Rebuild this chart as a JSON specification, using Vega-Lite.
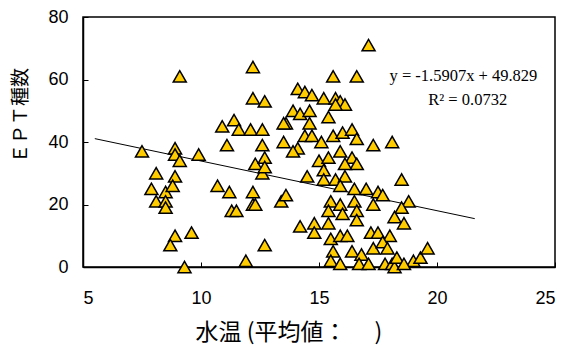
{
  "$schema": "https://vega.github.io/schema/vega-lite/v6.json",
  "width": 472,
  "height": 250,
  "autosize": {"type": "none"},
  "padding": {"left": 83, "top": 17, "right": 13, "bottom": 82},
  "background": "white",
  "config": {
    "view": {"stroke": "black", "strokeWidth": 1.5},
    "axis": {
      "grid": false,
      "domainColor": "black",
      "domainWidth": 1.5,
      "tickColor": "black",
      "tickWidth": 1,
      "tickSize": -5,
      "labelFont": "Liberation Sans",
      "labelFontSize": 18,
      "labelColor": "black",
      "titleFont": "Noto Sans CJK JP",
      "titleFontWeight": "normal",
      "titleColor": "black"
    }
  },
  "layer": [
    {
      "data": {"values": [
        {"temp": 5.5, "ept": 41.08},
        {"temp": 21.6, "ept": 15.47}
      ]},
      "mark": {"type": "line", "color": "black", "strokeWidth": 1},
      "encoding": {
        "x": {"field": "temp", "type": "quantitative"},
        "y": {"field": "ept", "type": "quantitative"}
      }
    },
    {
      "data": {"values": [
        {"temp": 7.5, "ept": 37}, {"temp": 9.1, "ept": 61}, {"temp": 8.9, "ept": 38}, {"temp": 8.9, "ept": 36},
        {"temp": 9.1, "ept": 34}, {"temp": 9.9, "ept": 36}, {"temp": 8.1, "ept": 30}, {"temp": 8.9, "ept": 29},
        {"temp": 7.9, "ept": 25}, {"temp": 8.1, "ept": 21}, {"temp": 8.5, "ept": 24}, {"temp": 8.5, "ept": 21},
        {"temp": 8.5, "ept": 19}, {"temp": 8.8, "ept": 26}, {"temp": 8.9, "ept": 10}, {"temp": 8.7, "ept": 7},
        {"temp": 9.6, "ept": 11}, {"temp": 9.3, "ept": 0}, {"temp": 10.7, "ept": 26}, {"temp": 11.2, "ept": 24},
        {"temp": 11.3, "ept": 18}, {"temp": 11.5, "ept": 18}, {"temp": 11.9, "ept": 2}, {"temp": 12.2, "ept": 24},
        {"temp": 12.2, "ept": 20}, {"temp": 12.3, "ept": 20}, {"temp": 12.7, "ept": 7}, {"temp": 12.6, "ept": 30},
        {"temp": 13.4, "ept": 21}, {"temp": 13.6, "ept": 23}, {"temp": 12.2, "ept": 64}, {"temp": 12.2, "ept": 54},
        {"temp": 12.7, "ept": 53}, {"temp": 10.9, "ept": 45}, {"temp": 11.4, "ept": 47}, {"temp": 11.6, "ept": 44},
        {"temp": 12.1, "ept": 44}, {"temp": 12.6, "ept": 44}, {"temp": 11.1, "ept": 39}, {"temp": 12.6, "ept": 39},
        {"temp": 12.3, "ept": 33}, {"temp": 12.7, "ept": 35}, {"temp": 12.7, "ept": 32}, {"temp": 13.5, "ept": 40},
        {"temp": 13.6, "ept": 46},
        {"temp": 17.1, "ept": 71}, {"temp": 15.6, "ept": 61}, {"temp": 16.6, "ept": 61}, {"temp": 14.1, "ept": 57},
        {"temp": 14.4, "ept": 56}, {"temp": 14.7, "ept": 55}, {"temp": 15.2, "ept": 54}, {"temp": 15.7, "ept": 54},
        {"temp": 15.9, "ept": 53}, {"temp": 16.1, "ept": 52}, {"temp": 15.7, "ept": 52}, {"temp": 13.5, "ept": 46},
        {"temp": 13.9, "ept": 50}, {"temp": 14.2, "ept": 49}, {"temp": 14.6, "ept": 50}, {"temp": 15.4, "ept": 48},
        {"temp": 14.6, "ept": 46}, {"temp": 14.1, "ept": 38}, {"temp": 13.9, "ept": 37}, {"temp": 14.4, "ept": 42},
        {"temp": 14.7, "ept": 42}, {"temp": 15.1, "ept": 40}, {"temp": 15.6, "ept": 42}, {"temp": 16.0, "ept": 43},
        {"temp": 16.4, "ept": 44}, {"temp": 16.6, "ept": 41}, {"temp": 17.3, "ept": 39}, {"temp": 18.1, "ept": 40},
        {"temp": 15.0, "ept": 34}, {"temp": 15.4, "ept": 35}, {"temp": 15.9, "ept": 37}, {"temp": 16.4, "ept": 35},
        {"temp": 16.6, "ept": 33}, {"temp": 16.1, "ept": 33}, {"temp": 15.2, "ept": 31}, {"temp": 14.5, "ept": 29},
        {"temp": 15.2, "ept": 28}, {"temp": 15.7, "ept": 28}, {"temp": 16.1, "ept": 29}, {"temp": 15.9, "ept": 26},
        {"temp": 18.5, "ept": 28}, {"temp": 16.5, "ept": 25}, {"temp": 17.0, "ept": 25}, {"temp": 17.5, "ept": 24},
        {"temp": 17.7, "ept": 23}, {"temp": 15.5, "ept": 21}, {"temp": 15.9, "ept": 20}, {"temp": 16.5, "ept": 21},
        {"temp": 18.8, "ept": 21}, {"temp": 15.4, "ept": 18}, {"temp": 16.0, "ept": 17}, {"temp": 16.6, "ept": 18},
        {"temp": 16.6, "ept": 15}, {"temp": 17.3, "ept": 20}, {"temp": 18.5, "ept": 19}, {"temp": 18.2, "ept": 16},
        {"temp": 18.6, "ept": 14}, {"temp": 14.2, "ept": 13}, {"temp": 14.8, "ept": 14}, {"temp": 14.8, "ept": 11},
        {"temp": 15.4, "ept": 14}, {"temp": 15.5, "ept": 9}, {"temp": 15.9, "ept": 10}, {"temp": 16.2, "ept": 10},
        {"temp": 17.2, "ept": 11}, {"temp": 17.5, "ept": 11}, {"temp": 18.0, "ept": 10}, {"temp": 15.6, "ept": 5},
        {"temp": 15.5, "ept": 2}, {"temp": 15.9, "ept": 1}, {"temp": 16.4, "ept": 5}, {"temp": 16.8, "ept": 4},
        {"temp": 17.3, "ept": 6}, {"temp": 17.7, "ept": 8}, {"temp": 17.9, "ept": 6}, {"temp": 16.7, "ept": 1},
        {"temp": 17.1, "ept": 1}, {"temp": 17.8, "ept": 1}, {"temp": 18.1, "ept": 1}, {"temp": 18.2, "ept": 0},
        {"temp": 18.3, "ept": 3}, {"temp": 19.0, "ept": 2}, {"temp": 19.3, "ept": 3}, {"temp": 19.6, "ept": 6},
        {"temp": 18.6, "ept": 1}
      ]},
      "mark": {
        "type": "point",
        "shape": "triangle-up",
        "filled": true,
        "fill": "#FFCC00",
        "stroke": "black",
        "strokeWidth": 1.5,
        "size": 170,
        "opacity": 1
      },
      "encoding": {
        "x": {
          "field": "temp",
          "type": "quantitative",
          "scale": {"domain": [5, 25], "nice": false, "zero": false},
          "axis": {
            "values": [5, 10, 15, 20, 25],
            "labelPadding": 27,
            "title": "水温 (平均値：　 )",
            "titleFontSize": 23,
            "titleAnchor": "start",
            "titleAlign": "left",
            "titleBaseline": "middle",
            "titleX": 112,
            "titleY": 65
          }
        },
        "y": {
          "field": "ept",
          "type": "quantitative",
          "scale": {"domain": [0, 80], "nice": false, "zero": true},
          "axis": {
            "values": [0, 20, 40, 60, 80],
            "labelPadding": 20,
            "title": "ＥＰＴ種数",
            "titleFontSize": 19,
            "titleAngle": 270,
            "titleAlign": "center",
            "titleBaseline": "middle",
            "titleX": -63,
            "titleY": 98
          }
        }
      }
    },
    {
      "data": {"values": [
        {"temp": 21.12, "ept": 61.1, "label": "y = -1.5907x + 49.829"},
        {"temp": 21.3, "ept": 53.4, "label": "R² = 0.0732"}
      ]},
      "mark": {
        "type": "text",
        "font": "Liberation Serif",
        "fontSize": 16.5,
        "color": "black",
        "align": "center",
        "baseline": "middle"
      },
      "encoding": {
        "x": {"field": "temp", "type": "quantitative"},
        "y": {"field": "ept", "type": "quantitative"},
        "text": {"field": "label"}
      }
    }
  ]
}
